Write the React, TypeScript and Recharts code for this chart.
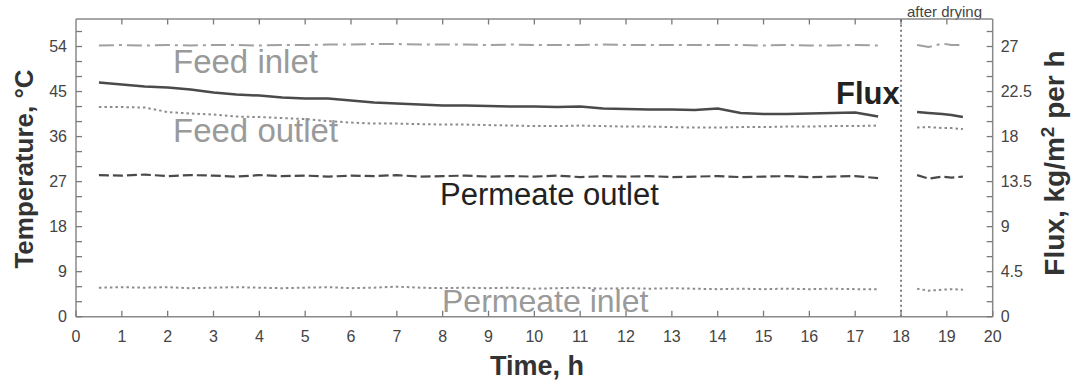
import React from 'react';
import { LineChart, Line, XAxis, YAxis, ReferenceLine, Customized } from 'recharts';

// Time (h) of each sample; the null row at 18 h separates the run from the "after drying" test
const times = [
  0.5, 1, 1.5, 2, 2.5, 3, 3.5, 4, 4.5, 5, 5.5, 6, 6.5, 7, 7.5, 8, 8.5, 9, 9.5, 10,
  10.5, 11, 11.5, 12, 12.5, 13, 13.5, 14, 14.5, 15, 15.5, 16, 16.5, 17, 17.5,
  18,
  18.35, 18.6, 18.9, 19.1, 19.35,
];

// Temperatures, °C (left axis)
const feedInlet = [
  54.2, 54.3, 54.2, 54.3, 54.2, 54.3, 54.3, 54.2, 54.3, 54.3, 54.4, 54.4, 54.5, 54.5, 54.4, 54.4, 54.4, 54.3, 54.4, 54.3,
  54.3, 54.3, 54.4, 54.3, 54.3, 54.3, 54.3, 54.3, 54.3, 54.2, 54.3, 54.2, 54.2, 54.3, 54.2,
  null,
  54.3, 53.9, 54.6, 54.3, 54.3,
];
const feedOutlet = [
  41.9, 41.9, 41.8, 40.9, 40.6, 40.4, 40.0, 39.9, 39.7, 39.5, 39.1, 38.8, 38.6, 38.6, 38.5, 38.4, 38.4, 38.3, 38.2, 38.1,
  38.1, 38.2, 38.1, 38.0, 38.0, 37.9, 37.8, 37.8, 37.9, 37.9, 38.0, 38.0, 38.1, 38.1, 38.2,
  null,
  37.8, 37.9, 37.7, 37.7, 37.5,
];
const permeateOutlet = [
  28.3, 28.2, 28.4, 28.1, 28.3, 28.2, 28.0, 28.3, 28.1, 28.2, 28.0, 28.2, 28.1, 28.3, 28.0, 28.1, 28.2, 28.0, 28.1, 28.0,
  28.2, 27.9, 28.1, 28.0, 28.1, 27.9, 28.0, 28.1, 27.9, 28.0, 28.1, 27.9, 28.0, 28.1, 27.7,
  null,
  28.3, 27.6, 28.0, 27.8, 28.0,
];
const permeateInlet = [
  5.8, 5.9, 5.8, 5.9, 5.7, 5.8, 5.9, 5.8, 5.7, 5.8, 5.9, 5.7, 5.8, 6.0, 5.8, 5.7, 5.8, 5.7, 5.8, 5.6,
  5.7, 5.8, 5.6, 5.7, 5.6, 5.7, 5.6, 5.5, 5.6, 5.5, 5.6, 5.5, 5.6, 5.5, 5.5,
  null,
  5.6, 5.2, 5.4, 5.5, 5.4,
];

// Flux, kg/m² per h (right axis)
const flux = [
  23.4, 23.2, 23.0, 22.9, 22.7, 22.4, 22.2, 22.1, 21.9, 21.8, 21.8, 21.6, 21.4, 21.3, 21.2, 21.1, 21.1, 21.05, 21.0, 21.0,
  20.95, 21.0, 20.8, 20.75, 20.7, 20.7, 20.65, 20.8, 20.35, 20.25, 20.25, 20.3, 20.35, 20.4, 20.0,
  null,
  20.45, 20.35, 20.25, 20.15, 19.95,
];

// Axis ticks
const xTicks = [0, 1, 2, 3, 4, 5, 6, 7, 8, 9, 10, 11, 12, 13, 14, 15, 16, 17, 18, 19, 20];
const tempTicks = [0, 3, 6, 9, 12, 15, 18, 21, 24, 27, 30, 33, 36, 39, 42, 45, 48, 51, 54, 57];
const tempLabels = [0, 9, 18, 27, 36, 45, 54];
const fluxTicks = [0, 1.5, 3, 4.5, 6, 7.5, 9, 10.5, 12, 13.5, 15, 16.5, 18, 19.5, 21, 22.5, 24, 25.5, 27, 28.5];
const fluxLabels = [0, 4.5, 9, 13.5, 18, 22.5, 27];
const TEMP_MAX = 59.5;
const TOP_TICK_DEPTH = 1.1; // in °C units (≈5.5 px)

const rows = times.map((t, i) => ({
  t,
  feedInlet: feedInlet[i],
  feedOutlet: feedOutlet[i],
  permeateOutlet: permeateOutlet[i],
  permeateInlet: permeateInlet[i],
  flux: flux[i],
}));

const FONT = '"Liberation Sans", Arial, Helvetica, sans-serif';
const AXIS = '#8a8a8a';
const TICKC = '#7a7a7a';
const TICKTXT = '#444';
const TITLE = '#333';
const TICKLEN = 6;

const BottomTick = (props: any) => {
  const { x, y, payload } = props;
  return (
    <g>
      <line x1={x} y1={y} x2={x} y2={y - TICKLEN} stroke={TICKC} strokeWidth={1.3} />
      <text x={x} y={y + 25} textAnchor="middle" fontSize={16} fill={TICKTXT} fontFamily={FONT}>
        {payload.value}
      </text>
    </g>
  );
};

const LeftTick = (props: any) => {
  const { x, y, payload } = props;
  const show = tempLabels.includes(payload.value);
  return (
    <g>
      <line x1={x} y1={y} x2={x + TICKLEN} y2={y} stroke={TICKC} strokeWidth={1.3} />
      {show && (
        <text x={x - 9} y={y} dy="0.36em" textAnchor="end" fontSize={16} fill={TICKTXT} fontFamily={FONT}>
          {payload.value}
        </text>
      )}
    </g>
  );
};

const RightTick = (props: any) => {
  const { x, y, payload } = props;
  const show = fluxLabels.includes(payload.value);
  return (
    <g>
      <line x1={x} y1={y} x2={x - TICKLEN} y2={y} stroke={TICKC} strokeWidth={1.3} />
      {show && (
        <text x={x + 8} y={y} dy="0.36em" textAnchor="start" fontSize={16} fill={TICKTXT} fontFamily={FONT}>
          {payload.value}
        </text>
      )}
    </g>
  );
};

const Overlay = () => (
  <g fontFamily={FONT}>
    <text x={173} y={73} fontSize={33} fill="#9a9a9a">Feed inlet</text>
    <text x={173} y={142} fontSize={33} fill="#9a9a9a">Feed outlet</text>
    <text x={440} y={205} fontSize={31} fill="#222">Permeate outlet</text>
    <text x={442} y={312} fontSize={32} fill="#9a9a9a">Permeate inlet</text>
    <text x={836} y={104} fontSize={31} fontWeight="bold" fill="#222">Flux</text>
    <text x={907} y={17} fontSize={15} fill="#444">after drying</text>
    <text x={537} y={375} fontSize={27} fontWeight="bold" fill={TITLE} textAnchor="middle">Time, h</text>
    <text
      x={33}
      y={169}
      fontSize={26}
      fontWeight="bold"
      fill={TITLE}
      textAnchor="middle"
      transform="rotate(-90, 33, 169)"
    >
      Temperature, °C
    </text>
    <text
      x={1064}
      y={163}
      fontSize={28}
      fontWeight="bold"
      fill={TITLE}
      textAnchor="middle"
      transform="rotate(-90, 1064, 163)"
    >
      Flux, kg/m<tspan dy={-10} fontSize={19}>2</tspan>
      <tspan dy={10}> per h</tspan>
    </text>
  </g>
);

export default function App() {
  return (
    <div style={{ position: 'fixed', left: 0, top: 0, width: 1073, height: 381, background: '#fff' }}>
      <LineChart
        width={1073}
        height={381}
        data={rows}
        margin={{ top: 19, right: 20.3, bottom: 14.3, left: 16 }}
      >
        <XAxis
          dataKey="t"
          type="number"
          domain={[0, 20]}
          ticks={xTicks}
          interval={0}
          height={50}
          tickSize={0}
          tickMargin={0}
          tickLine={false}
          tick={<BottomTick />}
          axisLine={{ stroke: AXIS, strokeWidth: 1.5 }}
          allowDataOverflow
        />
        <YAxis
          yAxisId="left"
          type="number"
          domain={[0, TEMP_MAX]}
          ticks={tempTicks}
          interval={0}
          width={60}
          tickSize={0}
          tickMargin={0}
          tickLine={false}
          tick={<LeftTick />}
          axisLine={{ stroke: AXIS, strokeWidth: 1.5 }}
          allowDataOverflow
        />
        <YAxis
          yAxisId="right"
          orientation="right"
          type="number"
          domain={[0, TEMP_MAX / 2]}
          ticks={fluxTicks}
          interval={0}
          width={60}
          tickSize={0}
          tickMargin={0}
          tickLine={false}
          tick={<RightTick />}
          axisLine={{ stroke: AXIS, strokeWidth: 1.5 }}
          allowDataOverflow
        />
        {/* top frame and its inward ticks */}
        <ReferenceLine yAxisId="left" y={TEMP_MAX} stroke={AXIS} strokeWidth={1.5} ifOverflow="extendDomain" />
        {xTicks.slice(1, -1).map((t) => (
          <ReferenceLine
            key={`tt${t}`}
            yAxisId="left"
            segment={[
              { x: t, y: TEMP_MAX },
              { x: t, y: TEMP_MAX - TOP_TICK_DEPTH },
            ]}
            stroke={TICKC}
            strokeWidth={1.3}
          />
        ))}
        <ReferenceLine yAxisId="left" x={18} stroke="#555" strokeWidth={1.5} strokeDasharray="2 3" />
        <Line
          yAxisId="left"
          type="linear"
          dataKey="feedInlet"
          stroke="#a0a0a0"
          strokeWidth={2}
          strokeDasharray="15 5 3 5"
          dot={false}
          isAnimationActive={false}
        />
        <Line
          yAxisId="left"
          type="linear"
          dataKey="feedOutlet"
          stroke="#8c8c8c"
          strokeWidth={2}
          strokeDasharray="2.5 3"
          dot={false}
          isAnimationActive={false}
        />
        <Line
          yAxisId="left"
          type="linear"
          dataKey="permeateOutlet"
          stroke="#4a4a4a"
          strokeWidth={2.2}
          strokeDasharray="10 4"
          dot={false}
          isAnimationActive={false}
        />
        <Line
          yAxisId="left"
          type="linear"
          dataKey="permeateInlet"
          stroke="#8c8c8c"
          strokeWidth={2}
          strokeDasharray="2.5 3"
          dot={false}
          isAnimationActive={false}
        />
        <Line
          yAxisId="right"
          type="linear"
          dataKey="flux"
          stroke="#4a4a4a"
          strokeWidth={2.5}
          dot={false}
          isAnimationActive={false}
        />
        <Customized component={<Overlay />} />
      </LineChart>
    </div>
  );
}
